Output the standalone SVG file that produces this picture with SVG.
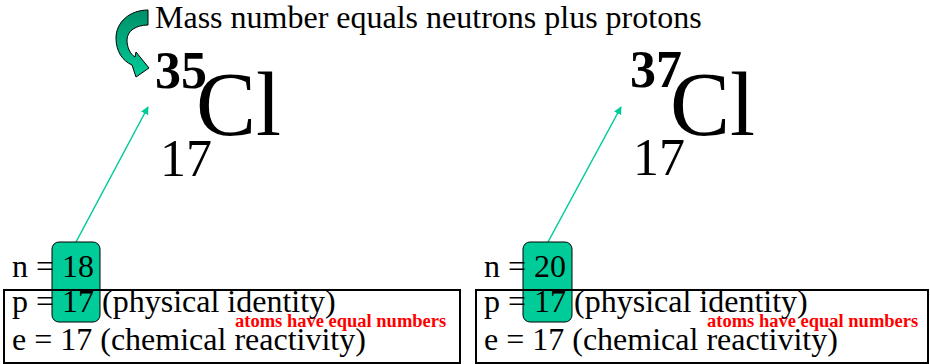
<svg xmlns="http://www.w3.org/2000/svg" width="930" height="364" viewBox="0 0 930 364">
<style>
text{font-family:"Liberation Serif","Times New Roman",serif;fill:#000}
.big{font-size:90px}
.sup{font-size:52px;font-weight:bold}
.sub{font-size:52px}
.line{font-size:32px}
.note{font-size:18.5px;font-weight:bold;fill:#ff0000}
.hl{fill:#00cc99;stroke:#000;stroke-width:1}
.box{fill:none;stroke:#000;stroke-width:2}
.conn{stroke:#00cc99;stroke-width:1.5;fill:none}
</style>
<defs>
<linearGradient id="g" x1="0" y1="0" x2="0" y2="1">
<stop offset="0" stop-color="#008f68"/>
<stop offset="1" stop-color="#00cc99"/>
</linearGradient>
<marker id="ah" viewBox="0 0 10 10" refX="9" refY="5" markerWidth="8" markerHeight="8" markerUnits="userSpaceOnUse" orient="auto">
<path d="M0,0 L10,5 L0,10 z" fill="#00cc99"/>
</marker>
</defs>
<g id="title">
<path d="M148,10 C130,10 116,22 116,38 C116,52 123,61 132,65 L136,77 L149,68 L136,52 L135,57 C130,54 127,47 127,40 C127,31 136,25 148,25 Z" fill="url(#g)" stroke="#000" stroke-width="1"/>
<text x="155" y="28" font-size="32">Mass number equals neutrons plus protons</text>
</g>
<g id="cl35">
<text class="sup" x="155" y="88">35</text>
<text class="big" x="196" y="135">Cl</text>
<text class="sub" x="160" y="176">17</text>
</g>
<g id="cl37">
<text class="sup" x="630" y="87">37</text>
<text class="big" x="670" y="135">Cl</text>
<text class="sub" x="633" y="175">17</text>
</g>
<g id="connectors">
<line class="conn" x1="76" y1="242" x2="148" y2="107" marker-end="url(#ah)"/>
<line class="conn" x1="548" y1="242" x2="621" y2="107" marker-end="url(#ah)"/>
</g>
<g id="left-box">
<rect class="hl" x="52" y="242" width="48" height="80" rx="7"/>
<rect class="box" x="4" y="290" width="456" height="73"/>
<text class="line" x="12" y="277">n = 18</text>
<text class="line" x="12" y="312">p = 17 (physical identity)</text>
<text class="line" x="12" y="350">e = 17 (chemical reactivity)</text>
<text class="note" x="235" y="327">atoms have equal numbers</text>
</g>
<g id="right-box">
<rect class="hl" x="523" y="242" width="49" height="80" rx="7"/>
<rect class="box" x="476" y="290" width="452" height="73"/>
<text class="line" x="484" y="277">n = 20</text>
<text class="line" x="484" y="312">p = 17 (physical identity)</text>
<text class="line" x="484" y="350">e = 17 (chemical reactivity)</text>
<text class="note" x="707" y="327">atoms have equal numbers</text>
</g>
</svg>
